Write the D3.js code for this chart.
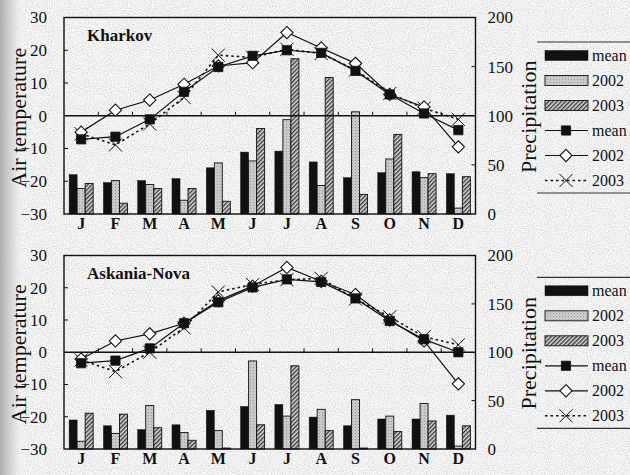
<!DOCTYPE html>
<html>
<head>
<meta charset="utf-8">
<script src="https://cdn.jsdelivr.net/npm/d3@7"></script>
<style>
  html, body { margin: 0; padding: 0; background: #fff; }
  svg { display: block; font-family: "Liberation Serif", "Times New Roman", serif; }
</style>
</head>
<body>
<svg id="chart" width="630" height="475"></svg>
<script>
// Months along the x axis
const months = ["J", "F", "M", "A", "M", "J", "J", "A", "S", "O", "N", "D"];

// Axis ticks
const tempTicks = [-30, -20, -10, 0, 10, 20, 30];
const precipTicks = [0, 50, 100, 150, 200];

// Kharkov — precipitation (mm)
const kharkovPrecipMean = [40, 32, 34, 36, 47, 63, 64, 53, 37, 42, 43, 41];
const kharkovPrecip2002 = [26, 34, 30, 14, 52, 54, 96, 29, 104, 56, 37, 6];
const kharkovPrecip2003 = [31, 11, 26, 26, 13, 87, 158, 139, 20, 81, 41, 38];
// Kharkov — air temperature (°C)
const kharkovTempMean = [-7.2, -6.4, -1.1, 7.3, 14.9, 18.3, 20.0, 19.2, 13.7, 6.5, 0.7, -4.4];
const kharkovTemp2002 = [-5.0, 1.7, 4.8, 9.6, 15.2, 16.2, 25.4, 20.7, 16.0, 6.5, 2.7, -9.5];
const kharkovTemp2003 = [-5.5, -8.9, -2.5, 5.6, 18.5, 17.8, 20.3, 19.0, 14.0, 6.8, 2.3, -1.1];

// Askania-Nova — precipitation (mm)
const askaniaPrecipMean = [30, 24, 20, 25, 40, 44, 46, 33, 24, 31, 31, 35];
const askaniaPrecip2002 = [8, 16, 45, 17, 19, 91, 34, 41, 51, 34, 47, 3];
const askaniaPrecip2003 = [37, 36, 22, 9, 1, 25, 86, 19, 1, 18, 29, 24];
// Askania-Nova — air temperature (°C)
const askaniaTempMean = [-3.4, -2.6, 1.2, 9.0, 15.5, 20.1, 22.6, 21.8, 16.7, 9.7, 4.0, 0.0];
const askaniaTemp2002 = [-2.1, 3.5, 5.7, 9.0, 16.0, 20.5, 26.3, 22.0, 17.9, 10.0, 3.5, -9.8];
const askaniaTemp2003 = [-2.4, -6.0, 0.0, 7.6, 18.7, 21.0, 22.5, 22.9, 16.5, 11.0, 4.8, 2.3];

const seriesKeys = ["mean", "2002", "2003"];
const serif = "Liberation Serif, Times New Roman, serif";

const svg = d3.select("#chart");
const defs = svg.append("defs");

// Paper background with a faint scanner grain and a shaded left margin
const grain = defs.append("filter").attr("id", "grain")
  .attr("x", 0).attr("y", 0).attr("width", "100%").attr("height", "100%");
grain.append("feTurbulence").attr("type", "fractalNoise")
  .attr("baseFrequency", 0.95).attr("numOctaves", 1).attr("seed", 3);
grain.append("feColorMatrix").attr("type", "matrix")
  .attr("values", "0 0 0 0 0  0 0 0 0 0  0 0 0 0 0  0 0 0 -1.8 1.1");

const edge = defs.append("linearGradient").attr("id", "edge")
  .attr("x1", 0).attr("x2", 1).attr("y1", 0).attr("y2", 0);
edge.append("stop").attr("offset", 0).attr("stop-color", "#adadad").attr("stop-opacity", 1);
edge.append("stop").attr("offset", 0.5).attr("stop-color", "#d2d2d2").attr("stop-opacity", 0.7);
edge.append("stop").attr("offset", 1).attr("stop-color", "#ffffff").attr("stop-opacity", 0);

svg.append("rect").attr("width", 630).attr("height", 475).attr("fill", "#fafafa");
svg.append("rect").attr("width", 630).attr("height", 475)
  .attr("filter", "url(#grain)").attr("opacity", 0.2);
svg.append("rect").attr("width", 26).attr("height", 475).attr("fill", "url(#edge)");

// Fill patterns for the 2002 (stippled grey) and 2003 (hatched) bars
const dots = defs.append("pattern").attr("id", "fill2002")
  .attr("patternUnits", "userSpaceOnUse").attr("width", 3).attr("height", 3);
dots.append("rect").attr("width", 3).attr("height", 3).attr("fill", "#c9c9c9");
dots.append("rect").attr("x", 1).attr("y", 1).attr("width", 1).attr("height", 1).attr("fill", "#9a9a9a");

const hatch = defs.append("pattern").attr("id", "fill2003")
  .attr("patternUnits", "userSpaceOnUse").attr("width", 3).attr("height", 3)
  .attr("patternTransform", "rotate(45)");
hatch.append("rect").attr("width", 3).attr("height", 3).attr("fill", "#d8d8d8");
hatch.append("rect").attr("width", 1.4).attr("height", 3).attr("fill", "#3a3a3a");

const barFill = { "mean": "#111", "2002": "url(#fill2002)", "2003": "url(#fill2003)" };

const plotLeft = 64, plotRight = 475.5;

const x = d3.scaleBand().domain(d3.range(months.length)).range([plotLeft, plotRight]);
const xSeries = d3.scaleBand().domain(seriesKeys).range([0, x.bandwidth()])
  .paddingInner(0).paddingOuter(0.64);

// Point symbols for the temperature lines
const symbolFor = {
  "mean": d3.symbol().type(d3.symbolSquare).size(85),
  "2002": d3.symbol().type(d3.symbolDiamond2).size(95),
  "2003": d3.symbol().type(d3.symbolX).size(115)
};
const symbolFill = { "mean": "#111", "2002": "#fff", "2003": "#111" };
const symbolStroke = { "mean": 0.8, "2002": 1.1, "2003": 1.0 };

function drawPanel(p) {
  const g = svg.append("g");
  const yT = d3.scaleLinear().domain([-30, 30]).range([p.bottom, p.top]);
  const yP = d3.scaleLinear().domain([0, 200]).range([p.bottom, p.top]);

  // Precipitation bars
  const precip = { "mean": p.precipMean, "2002": p.precip2002, "2003": p.precip2003 };
  seriesKeys.forEach(k => {
    g.append("g").selectAll("rect").data(precip[k]).join("rect")
      .attr("x", (d, i) => x(i) + xSeries(k))
      .attr("y", d => yP(d))
      .attr("width", xSeries.bandwidth())
      .attr("height", d => yP(0) - yP(d))
      .attr("fill", barFill[k])
      .attr("stroke", "#111")
      .attr("stroke-width", k === "mean" ? 0.5 : 0.9);
  });

  // Frame
  g.append("rect").attr("x", plotLeft).attr("y", p.top)
    .attr("width", plotRight - plotLeft).attr("height", p.bottom - p.top)
    .attr("fill", "none").attr("stroke", "#111").attr("stroke-width", 1.4);

  // Zero line with month dividers
  g.append("line").attr("x1", plotLeft).attr("x2", plotRight)
    .attr("y1", yT(0)).attr("y2", yT(0)).attr("stroke", "#111").attr("stroke-width", 1.3);
  g.append("g").selectAll("line").data(d3.range(1, months.length)).join("line")
    .attr("x1", i => x(i)).attr("x2", i => x(i))
    .attr("y1", yT(0)).attr("y2", yT(0) - 4)
    .attr("stroke", "#111").attr("stroke-width", 1);

  // Left temperature axis
  const leftAxis = d3.axisLeft(yT).tickValues(tempTicks).tickSize(0).tickPadding(17);
  const la = g.append("g").attr("transform", `translate(${plotLeft},0)`).call(leftAxis);
  la.select(".domain").remove();
  la.attr("font-family", serif);
  la.selectAll("text").attr("font-size", 17).attr("fill", "#111");
  g.append("g").selectAll("line").data(tempTicks.filter(t => Math.abs(t) !== 30 && t !== 0)).join("line")
    .attr("x1", plotLeft).attr("x2", plotLeft + 4)
    .attr("y1", d => yT(d)).attr("y2", d => yT(d)).attr("stroke", "#111");

  // Right precipitation axis
  const rightAxis = d3.axisRight(yP).tickValues(precipTicks).tickSize(0).tickPadding(12);
  const ra = g.append("g").attr("transform", `translate(${plotRight},0)`).call(rightAxis);
  ra.select(".domain").remove();
  ra.attr("font-family", serif);
  ra.selectAll("text").attr("font-size", 17).attr("fill", "#111");
  g.append("g").selectAll("line").data([50, 150]).join("line")
    .attr("x1", plotRight).attr("x2", plotRight - 4)
    .attr("y1", d => yP(d)).attr("y2", d => yP(d)).attr("stroke", "#111");

  // Month labels
  const bottomAxis = d3.axisBottom(x).tickFormat(i => months[i]).tickSize(0).tickPadding(4);
  const ba = g.append("g").attr("transform", `translate(0,${p.bottom})`).call(bottomAxis);
  ba.select(".domain").remove();
  ba.attr("font-family", serif);
  ba.selectAll("text").attr("font-size", 16).attr("font-weight", "bold").attr("fill", "#111");

  // Axis titles
  g.append("text")
    .attr("transform", `translate(26,${(p.top + p.bottom) / 2 + 2}) rotate(-90)`)
    .attr("text-anchor", "middle").attr("font-size", 22).attr("fill", "#111")
    .text("Air temperature");
  g.append("text")
    .attr("transform", `translate(536,${(p.top + p.bottom) / 2 + 1}) rotate(-90)`)
    .attr("text-anchor", "middle").attr("font-size", 22).attr("fill", "#111")
    .text("Precipitation");

  // Station name
  g.append("text").attr("x", 87).attr("y", p.top + 23)
    .attr("font-size", 17).attr("font-weight", "bold").attr("fill", "#111")
    .text(p.name);

  // Temperature lines
  const temps = { "mean": p.tempMean, "2002": p.temp2002, "2003": p.temp2003 };
  const line = d3.line().x((d, i) => x(i) + x.bandwidth() / 2).y(d => yT(d));
  ["2003", "2002", "mean"].forEach(k => {
    g.append("path").datum(temps[k]).attr("d", line)
      .attr("fill", "none").attr("stroke", "#111")
      .attr("stroke-width", k === "2003" ? 1.6 : 1.2)
      .attr("stroke-dasharray", k === "2003" ? "2.5,3" : null);
  });
  ["2003", "2002", "mean"].forEach(k => {
    g.append("g").selectAll("path").data(temps[k]).join("path")
      .attr("transform", (d, i) => `translate(${x(i) + x.bandwidth() / 2},${yT(d)})`)
      .attr("d", symbolFor[k]())
      .attr("fill", symbolFill[k])
      .attr("stroke", "#111")
      .attr("stroke-width", symbolStroke[k]);
  });

  // Legend
  const lg = g.append("g");
  lg.append("line").attr("x1", 537).attr("x2", 630).attr("y1", p.legendTop).attr("y2", p.legendTop)
    .attr("stroke", "#333").attr("stroke-width", 1.2);
  lg.append("line").attr("x1", 537).attr("x2", 630).attr("y1", p.legendTop + 151).attr("y2", p.legendTop + 151)
    .attr("stroke", "#333").attr("stroke-width", 1.2);
  const rowY = i => p.legendTop + 13.5 + i * 25;
  seriesKeys.forEach((k, i) => {
    lg.append("rect").attr("x", 545).attr("y", rowY(i) - 5).attr("width", 43).attr("height", 10)
      .attr("fill", barFill[k]).attr("stroke", "#111").attr("stroke-width", k === "mean" ? 0.5 : 0.9);
    lg.append("text").attr("x", 592).attr("y", rowY(i)).attr("dy", "0.32em")
      .attr("font-size", 16).attr("fill", "#111").text(k);
  });
  seriesKeys.forEach((k, j) => {
    const i = j + 3;
    lg.append("line").attr("x1", 545).attr("x2", 588).attr("y1", rowY(i)).attr("y2", rowY(i))
      .attr("stroke", "#111").attr("stroke-width", k === "2003" ? 1.6 : 1.2)
      .attr("stroke-dasharray", k === "2003" ? "2.5,3" : null);
    lg.append("path").attr("transform", `translate(566,${rowY(i)})`)
      .attr("d", symbolFor[k]())
      .attr("fill", symbolFill[k]).attr("stroke", "#111")
      .attr("stroke-width", symbolStroke[k]);
    lg.append("text").attr("x", 592).attr("y", rowY(i)).attr("dy", "0.32em")
      .attr("font-size", 16).attr("fill", "#111").text(k);
  });
}

drawPanel({
  name: "Kharkov", top: 17.5, bottom: 214, legendTop: 42,
  precipMean: kharkovPrecipMean, precip2002: kharkovPrecip2002, precip2003: kharkovPrecip2003,
  tempMean: kharkovTempMean, temp2002: kharkovTemp2002, temp2003: kharkovTemp2003
});
drawPanel({
  name: "Askania-Nova", top: 255.5, bottom: 449, legendTop: 277.3,
  precipMean: askaniaPrecipMean, precip2002: askaniaPrecip2002, precip2003: askaniaPrecip2003,
  tempMean: askaniaTempMean, temp2002: askaniaTemp2002, temp2003: askaniaTemp2003
});
</script>
</body>
</html>
